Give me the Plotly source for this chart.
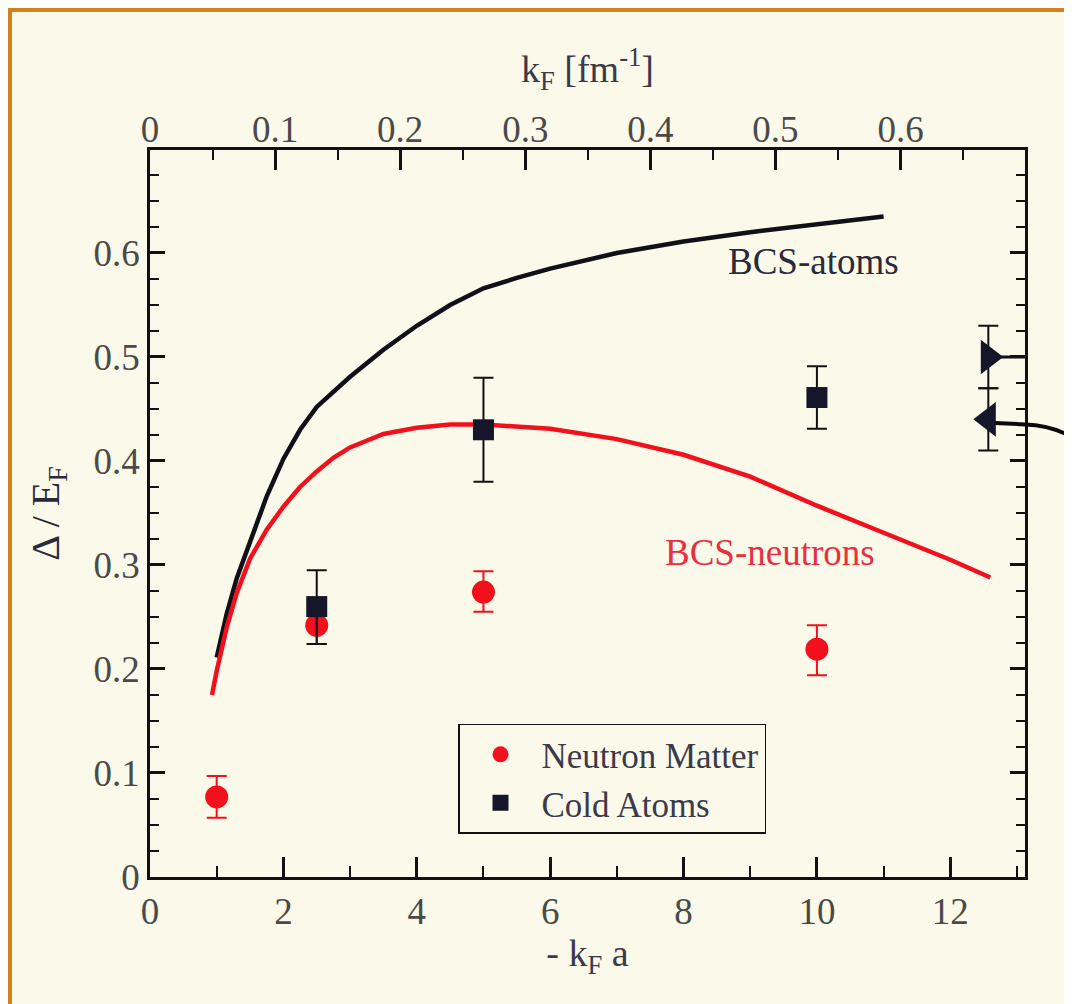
import plotly.graph_objects as go

# ---------------- data ----------------
# BCS curves (x = -k_F a, y = Delta/E_F)
bcs_atoms_x = [1.0, 1.15, 1.3, 1.5, 1.75, 2.0, 2.25, 2.5, 2.75, 3.0, 3.5, 4.0, 4.5, 5.0, 5.5, 6.0, 7.0, 8.0, 9.0, 10.0, 11.0]
bcs_atoms_y = [0.211, 0.253, 0.287, 0.322, 0.366, 0.402, 0.430, 0.452, 0.467, 0.481, 0.507, 0.53, 0.55, 0.566, 0.576, 0.585, 0.600, 0.611, 0.620, 0.628, 0.635]

bcs_neut_x = [0.93, 1.0, 1.15, 1.3, 1.5, 1.75, 2.0, 2.25, 2.5, 2.75, 3.0, 3.25, 3.5, 4.0, 4.5, 5.0, 6.0, 7.0, 8.0, 9.0, 10.0, 11.0, 12.0, 12.6]
bcs_neut_y = [0.175, 0.198, 0.240, 0.273, 0.306, 0.334, 0.356, 0.375, 0.39, 0.403, 0.413, 0.420, 0.426, 0.432, 0.435, 0.435, 0.431, 0.421, 0.406, 0.385, 0.357, 0.331, 0.305, 0.288]

# QMC results
neutron_x = [1.0, 2.5, 5.0, 10.0]
neutron_y = [0.077, 0.242, 0.274, 0.219]
neutron_err_plus = [0.020, 0.018, 0.020, 0.023]
neutron_err_minus = [0.020, 0.018, 0.019, 0.025]

atoms_x = [2.5, 5.0, 10.0]
atoms_y = [0.26, 0.43, 0.461]
atoms_err_plus = [0.035, 0.05, 0.03]
atoms_err_minus = [0.036, 0.05, 0.03]

# unitary-limit values at the right edge
unit_x = [12.57]
unit_right_y = [0.50]
unit_right_err = [0.03]
unit_left_y = [0.44]
unit_left_err = [0.03]

# axes
x_range = [0, 13.12]
y_range = [0, 0.699]
top_range = [0, 0.6995]
x_ticks = [0, 2, 4, 6, 8, 10, 12]
y_ticks = [0, 0.1, 0.2, 0.3, 0.4, 0.5, 0.6]
y_ticklabels = ["0", "0.1", "0.2", "0.3", "0.4", "0.5", "0.6"]
top_ticks = [0, 0.1, 0.2, 0.3, 0.4, 0.5, 0.6]
top_ticklabels = ["0", "0.1", "0.2", "0.3", "0.4", "0.5", "0.6"]

# ---------------- style ----------------
BG = "#FBF9E9"
FONT = "'Liberation Serif', 'Times New Roman', 'DejaVu Serif', serif"
TICKCOL = "#4a4a4a"
RED = "#F2101C"
DARK = "#16162a"

fig = go.Figure()

fig.add_trace(go.Scatter(x=bcs_atoms_x, y=bcs_atoms_y, mode="lines",
                         line=dict(color="#101018", width=4.5),
                         showlegend=False, hoverinfo="skip"))
fig.add_trace(go.Scatter(x=bcs_neut_x, y=bcs_neut_y, mode="lines",
                         line=dict(color=RED, width=4.5),
                         showlegend=False, hoverinfo="skip"))

fig.add_trace(go.Scatter(x=neutron_x, y=neutron_y, mode="markers", name="Neutron Matter",
                         marker=dict(symbol="circle", size=23, color=RED),
                         error_y=dict(type="data", array=neutron_err_plus, arrayminus=neutron_err_minus,
                                      color=RED, thickness=2, width=10)))
fig.add_trace(go.Scatter(x=atoms_x, y=atoms_y, mode="markers", name="Cold Atoms",
                         marker=dict(symbol="square", size=21, color=DARK),
                         error_y=dict(type="data", array=atoms_err_plus, arrayminus=atoms_err_minus,
                                      color="#111111", thickness=2, width=10)))

# unitary limit markers
fig.add_trace(go.Scatter(x=[unit_x[0], x_range[1]], y=[unit_right_y[0], unit_right_y[0]], mode="lines",
                         line=dict(color="#111111", width=3), showlegend=False, hoverinfo="skip"))
fig.add_trace(go.Scatter(x=unit_x, y=unit_right_y, mode="markers",
                         marker=dict(symbol="triangle-right", size=30, color=DARK),
                         error_y=dict(type="data", array=unit_right_err, color="#111111", thickness=2, width=10),
                         showlegend=False))
fig.add_trace(go.Scatter(x=unit_x, y=unit_left_y, mode="markers",
                         marker=dict(symbol="triangle-left", size=30, color=DARK),
                         error_y=dict(type="data", array=unit_left_err, color="#111111", thickness=2, width=10),
                         showlegend=False))

# helper trace for top axis
fig.add_trace(go.Scatter(x=[top_ticks[0]], y=[y_ticks[0]], xaxis="x2", mode="markers",
                         marker=dict(opacity=0), showlegend=False, hoverinfo="skip"))

fig.add_annotation(x=9.95, y=0.592, text="BCS-atoms", showarrow=False,
                   font=dict(family=FONT, size=37, color="#2a2a3a"))
fig.add_annotation(x=9.3, y=0.312, text="BCS-neutrons", showarrow=False,
                   font=dict(family=FONT, size=37, color="#E8303F"))

# curved arrow coming from the right
fig.add_shape(type="path", xref="paper", yref="paper",
              path="M 0.966,0.6245 L 1.0,0.6225 Q 1.035,0.621 1.06,0.600",
              line=dict(color="#0a0a0a", width=4))
# slide border
fig.add_shape(type="rect", xref="paper", yref="paper", x0=-0.1623, x1=-0.1577, y0=-0.18, y1=1.2,
              fillcolor="#D4811C", line=dict(width=0))
fig.add_shape(type="rect", xref="paper", yref="paper", x0=-0.1623, x1=1.06, y0=1.1898, y1=1.2,
              fillcolor="#D4811C", line=dict(width=0))

axis_common = dict(showgrid=False, zeroline=False, ticks="inside", tickcolor="#111111",
                   tickfont=dict(family=FONT, size=37, color=TICKCOL),
                   linecolor="#111111", linewidth=2.5, showline=True)

fig.update_layout(
    width=1064, height=996,
    margin=dict(l=142, r=47, t=142, b=127),
    paper_bgcolor=BG, plot_bgcolor=BG,
    font=dict(family=FONT, color=TICKCOL),
    xaxis=dict(range=x_range, tickmode="array", tickvals=x_ticks, ticklen=20, tickwidth=2.5,
               mirror=True,
               minor=dict(dtick=1, tick0=0, ticklen=11, tickwidth=2, ticks="inside", tickcolor="#111111"),
               title=dict(text="- k<sub>F</sub> a", font=dict(family=FONT, size=38, color="#3a3a4a"), standoff=8),
               **axis_common),
    xaxis2=dict(range=top_range, overlaying="x", side="top", anchor="y", tickmode="array",
                tickvals=top_ticks, ticktext=top_ticklabels, ticklen=20, tickwidth=2.5,
                showline=False, showgrid=False, zeroline=False, ticks="inside", tickcolor="#111111",
                tickfont=dict(family=FONT, size=37, color=TICKCOL),
                minor=dict(dtick=0.05, tick0=0, ticklen=10, tickwidth=2, ticks="inside", tickcolor="#111111"),
                title=dict(text="k<sub>F</sub> [fm<sup>-1</sup>]", font=dict(family=FONT, size=38, color="#3a3a4a"), standoff=14)),
    yaxis=dict(range=y_range, tickmode="array", tickvals=y_ticks, ticktext=y_ticklabels, ticklen=15, tickwidth=3,
               mirror="ticks",
               minor=dict(dtick=0.025, tick0=0, ticklen=9, tickwidth=2, ticks="inside", tickcolor="#111111"),
               title=dict(text="Δ / E<sub>F</sub>", font=dict(family=FONT, size=40, color="#2a2a3a"), standoff=22),
               **axis_common),
    legend=dict(x=0.352, y=0.211, xanchor="left", yanchor="top", bgcolor=BG,
                bordercolor="#111111", borderwidth=1.5,
                font=dict(family=FONT, size=35, color="#3a3a4a"),
                tracegroupgap=0, itemsizing="trace", itemwidth=72),
)

fig.write_html("out.html")
